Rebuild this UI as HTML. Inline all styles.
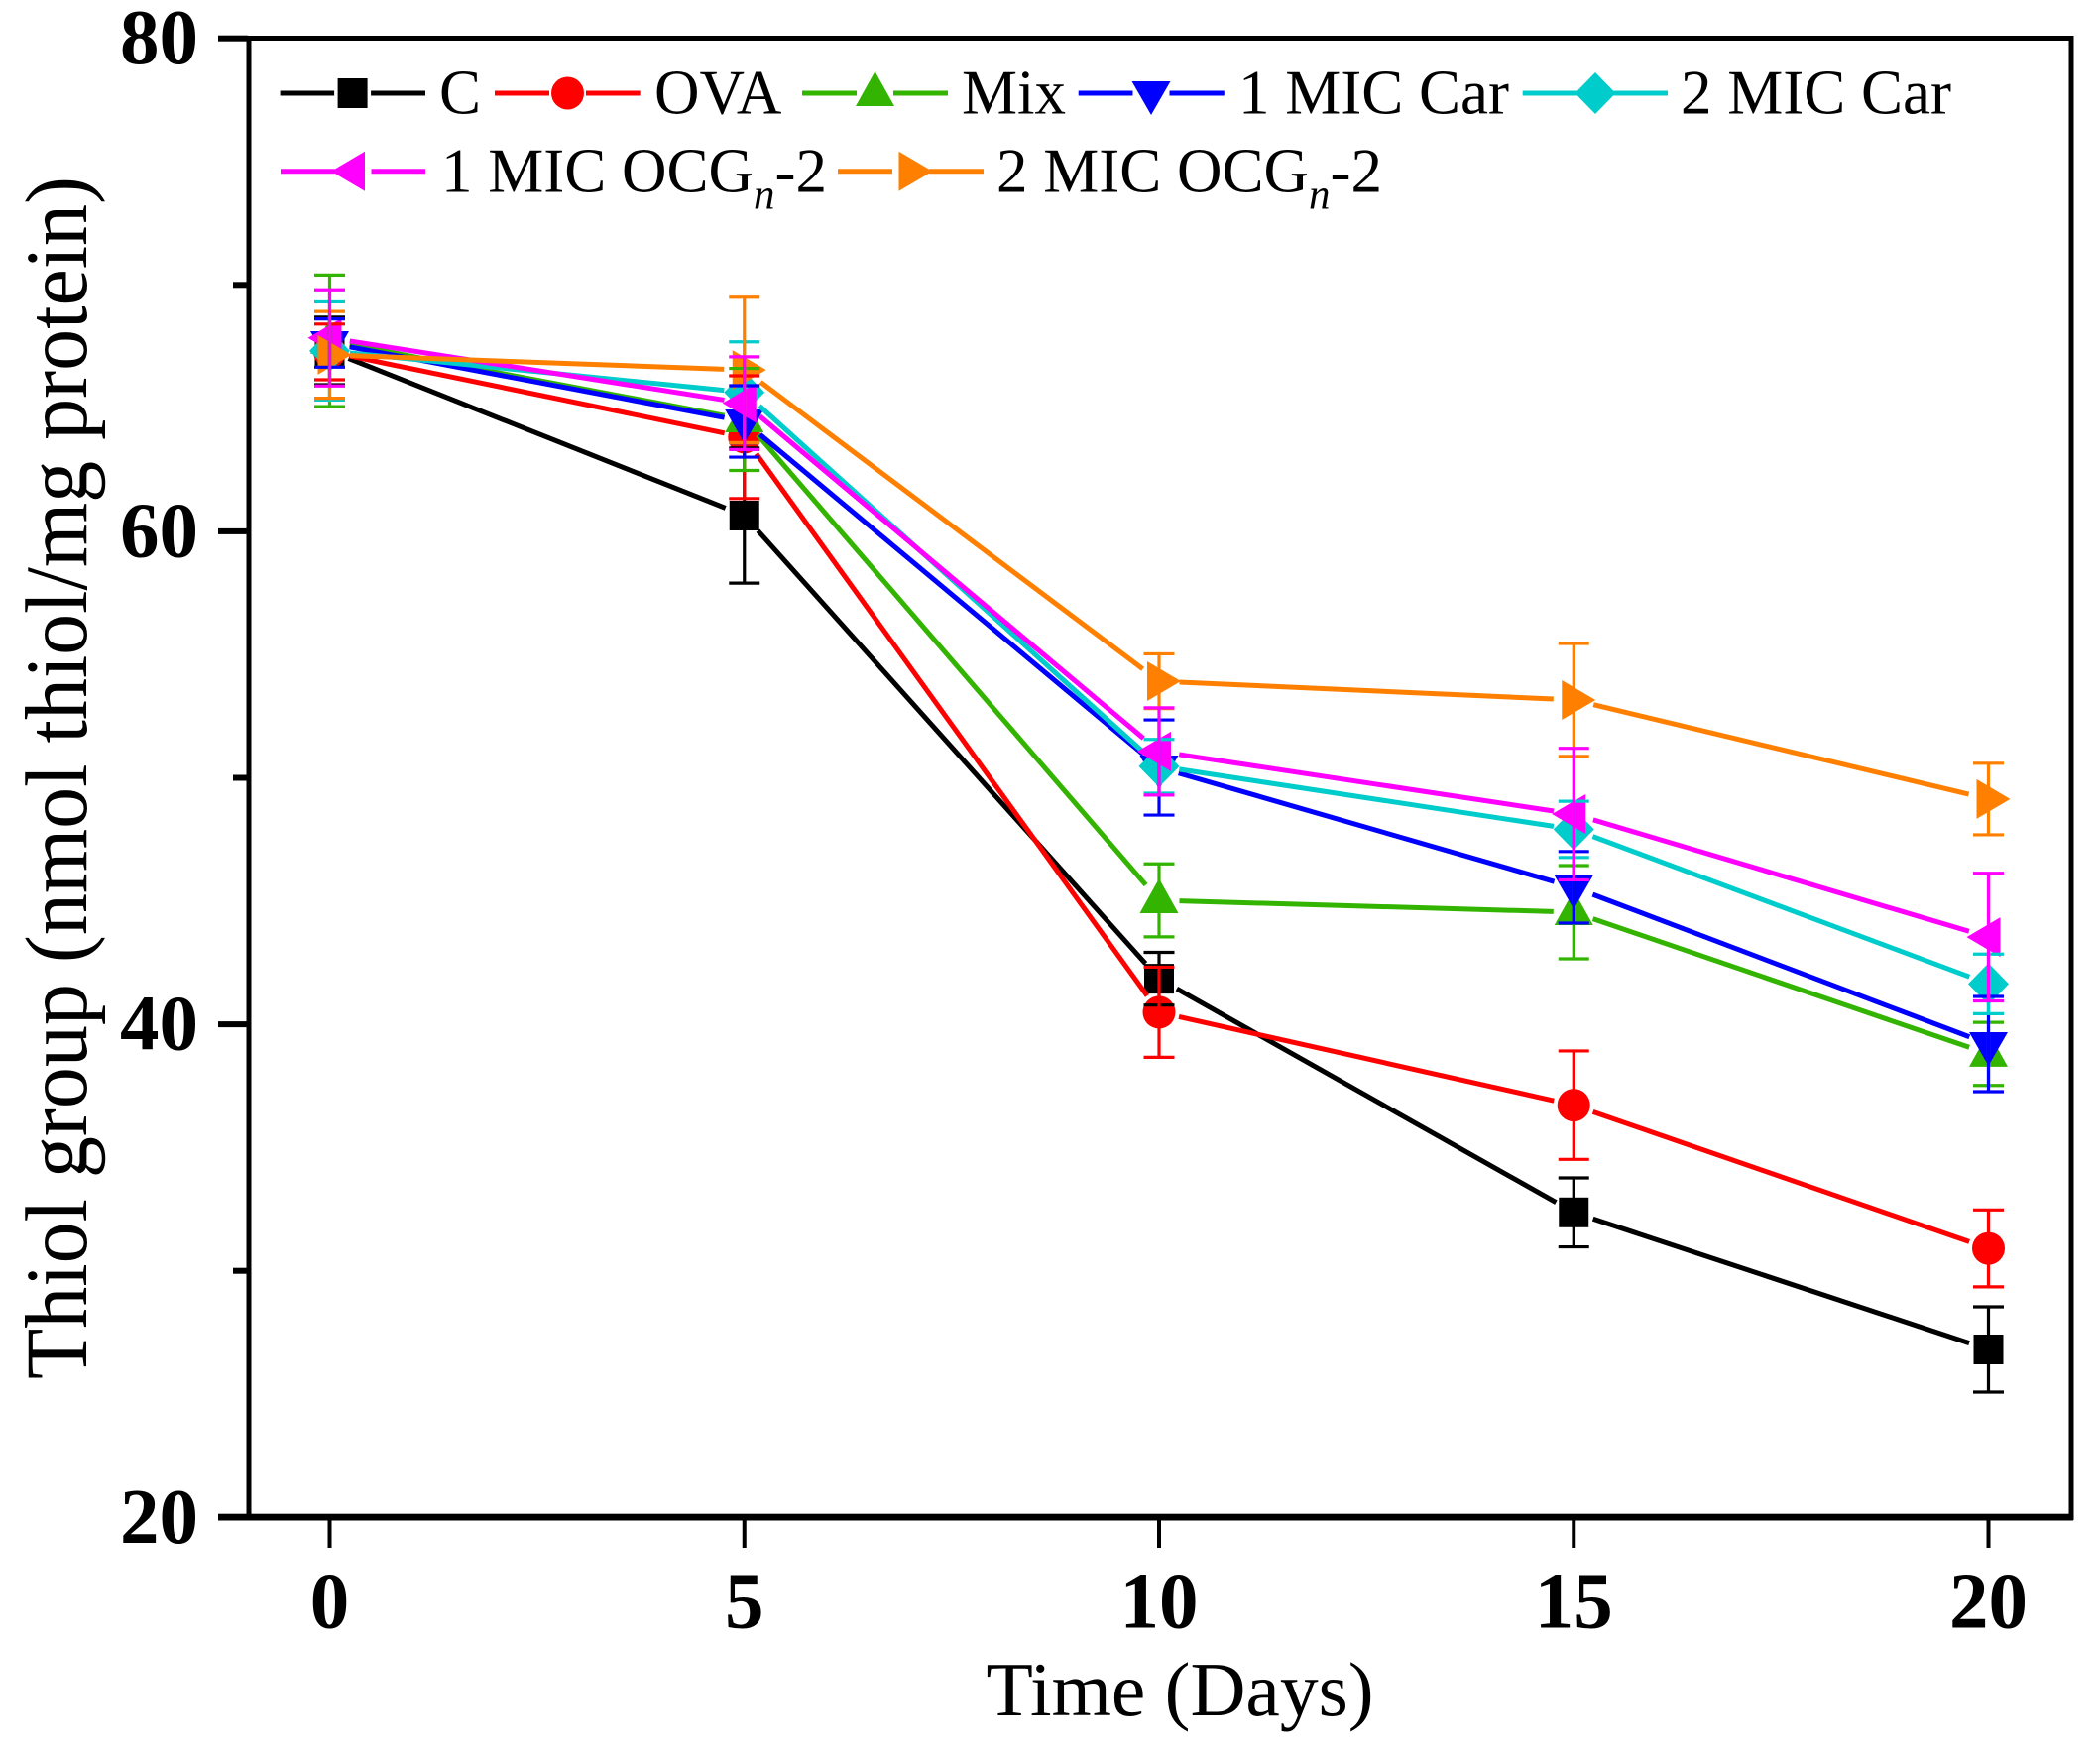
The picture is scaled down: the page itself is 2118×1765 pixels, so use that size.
<!DOCTYPE html>
<html lang="en">
<head>
<meta charset="utf-8">
<title>Thiol group over time</title>
<style>
html,body{margin:0;padding:0;background:#fff;}
svg{display:block;}
text{font-family:"Liberation Serif","Times New Roman",serif;fill:#000;}
.tick{font-weight:bold;font-size:79px;}
.legend{font-size:63px;}
.sub{font-size:43px;font-style:italic;}
</style>
</head>
<body>
<svg id="chart" xmlns="http://www.w3.org/2000/svg" width="2118" height="1765" viewBox="0 0 2118 1765">
  <rect x="0" y="0" width="2118" height="1765" fill="#ffffff"/>
  <g id="axes"></g>
  <g id="plot"></g>
  <g id="errors"></g>
  <g id="legend">
    <text class="legend" x="443" y="114.5">C</text>
    <text class="legend" x="660" y="114.5">OVA</text>
    <text class="legend" x="970" y="114.5">Mix</text>
    <text class="legend" x="1249" y="114.5">1 MIC Car</text>
    <text class="legend" x="1695" y="114.5">2 MIC Car</text>
    <text class="legend" x="445" y="193.5">1 MIC OCG<tspan class="sub" dy="17">n</tspan><tspan dy="-17">-2</tspan></text>
    <text class="legend" x="1005" y="193.5">2 MIC OCG<tspan class="sub" dy="17">n</tspan><tspan dy="-17">-2</tspan></text>
  </g>
  <text x="1190" y="1730" font-size="77.5" text-anchor="middle">Time (Days)</text>
  <text font-size="84" text-anchor="middle" transform="translate(87 784.5) rotate(-90) scale(1 1.06)">Thiol group (nmol thiol/mg protein)</text>
</svg>
<script>
var days = [0, 5, 10, 15, 20];
var xTickLabels = ["0", "5", "10", "15", "20"];
var yMajorTicks = [80, 60, 40, 20];
var yMinorTicks = [70, 50, 30];

var cValues = [67.32, 60.64, 41.85, 32.37, 26.81];
var cErrors = [1.37, 2.74, 1.07, 1.40, 1.73];
var ovaValues = [67.28, 63.82, 40.49, 36.72, 30.91];
var ovaErrors = [1.13, 2.49, 1.83, 2.20, 1.56];
var mixValues = [67.73, 64.54, 45.03, 44.55, 38.80];
var mixErrors = [2.67, 2.07, 1.48, 1.89, 1.28];
var car1Values = [67.64, 64.46, 50.42, 45.56, 39.20];
var car1Errors = [0.98, 1.45, 1.93, 1.45, 1.93];
var car2Values = [67.32, 65.64, 50.47, 47.91, 41.64];
var car2Errors = [1.99, 2.05, 1.09, 1.14, 1.21];
var ocg1Values = [67.85, 65.20, 51.07, 48.53, 43.54];
var ocg1Errors = [1.95, 1.88, 1.77, 2.67, 2.59];
var ocg2Values = [67.16, 66.55, 53.92, 53.16, 49.14];
var ocg2Errors = [1.76, 2.95, 1.11, 2.29, 1.45];

var NS = "http://www.w3.org/2000/svg";
var axesG = document.getElementById("axes");
var plotG = document.getElementById("plot");
var errG = document.getElementById("errors");
var legG = document.getElementById("legend");

function xScale(d) { return 332.5 + 83.65 * d; }
function yScale(v) { return 38.7 + (80 - v) * 24.86; }

function make(tag, attrs, parent) {
  var n = document.createElementNS(NS, tag);
  for (var k in attrs) { n.setAttribute(k, attrs[k]); }
  parent.appendChild(n);
  return n;
}

function drawMarker(shape, cx, cy, color, parent) {
  var n;
  if (shape === "square") {
    n = make("rect", { x: cx - 15, y: cy - 15, width: 30, height: 30, fill: color }, parent);
  } else if (shape === "circle") {
    n = make("circle", { cx: cx, cy: cy, r: 16.5, fill: color }, parent);
  } else {
    var pts;
    if (shape === "up") { pts = [[0, -22], [19.5, 13], [-19.5, 13]]; }
    if (shape === "down") { pts = [[-19.5, -12], [19.5, -12], [0, 22]]; }
    if (shape === "diamond") { pts = [[0, -21], [20.5, 0], [0, 21], [-20.5, 0]]; }
    if (shape === "left") { pts = [[-22, 0], [12, -20], [12, 20]]; }
    if (shape === "right") { pts = [[22, 0], [-12, -20], [-12, 20]]; }
    var s = pts.map(function (p) { return (cx + p[0]) + "," + (cy + p[1]); }).join(" ");
    n = make("polygon", { points: s, fill: color }, parent);
  }
  return n;
}

// axes
var topAxis = make("rect", { x: 220, y: 36, width: 1871, height: 5, fill: "#000" }, axesG);


var leftAxis = make("rect", { x: 248.5, y: 36, width: 5, height: 1497, fill: "#000" }, axesG);


var rightAxis = make("rect", { x: 2086.5, y: 36, width: 5, height: 1497, fill: "#000" }, axesG);


var bottomAxis = make("rect", { x: 220, y: 1526.7, width: 1871, height: 6.8, fill: "#000" }, axesG);



yMajorTicks.forEach(function (v) {
  var t = make("rect", { x: 220, y: yScale(v) - 3, width: 30, height: 6, fill: "#000" }, axesG);
  
  
  var l = make("text", { x: 200, y: yScale(v) + 25.5, "text-anchor": "end", "class": "tick" }, axesG);
  
  
  l.textContent = String(v);
});
yMinorTicks.forEach(function (v) {
  var t = make("rect", { x: 235, y: yScale(v) - 3, width: 15, height: 6, fill: "#000" }, axesG);
  
  
});
days.forEach(function (d, i) {
  var t = make("rect", { x: xScale(d) - 2, y: 1530, width: 4, height: 31, fill: "#000" }, axesG);
  
  
  var l = make("text", { x: xScale(d), y: 1641.5, "text-anchor": "middle", "class": "tick" }, axesG);
  
  
  l.textContent = xTickLabels[i];
});

var seriesList = [
  { key: "c", color: "#000000", shape: "square", values: cValues, errors: cErrors, lx1: 282.6, lx2: 429, mx: 355.6, ly: 94 },
  { key: "ova", color: "#ff0000", shape: "circle", values: ovaValues, errors: ovaErrors, lx1: 499, lx2: 645.7, mx: 572.5, ly: 94 },
  { key: "mix", color: "#33b400", shape: "up", values: mixValues, errors: mixErrors, lx1: 809, lx2: 956, mx: 882.5, ly: 94 },
  { key: "1-mic-car", color: "#0000ff", shape: "down", values: car1Values, errors: car1Errors, lx1: 1087.7, lx2: 1234.8, mx: 1161, ly: 94 },
  { key: "2-mic-car", color: "#00cccc", shape: "diamond", values: car2Values, errors: car2Errors, lx1: 1535.7, lx2: 1682, mx: 1609, ly: 94 },
  { key: "1-mic-ocg", color: "#ff00ff", shape: "left", values: ocg1Values, errors: ocg1Errors, lx1: 283, lx2: 429, mx: 356, ly: 172.7 },
  { key: "2-mic-ocg", color: "#ff8000", shape: "right", values: ocg2Values, errors: ocg2Errors, lx1: 845, lx2: 992, mx: 918.5, ly: 172.7 }
];

var GAP = 20.5;
seriesList.forEach(function (s) {
  var g = make("g", {}, plotG);
  
  
  for (var i = 0; i < days.length - 1; i++) {
    var x1 = xScale(days[i]), y1 = yScale(s.values[i]);
    var x2 = xScale(days[i + 1]), y2 = yScale(s.values[i + 1]);
    var len = Math.sqrt((x2 - x1) * (x2 - x1) + (y2 - y1) * (y2 - y1));
    var ux = (x2 - x1) / len, uy = (y2 - y1) / len;
    var seg = make("line", { x1: x1 + ux * GAP, y1: y1 + uy * GAP, x2: x2 - ux * GAP, y2: y2 - uy * GAP, stroke: s.color, "stroke-width": 5 }, g);
    
    
  }
  days.forEach(function (d, i) {
    var m = drawMarker(s.shape, xScale(d), yScale(s.values[i]), s.color, g);
    
    
  });
});

var errOrder = [0, 1, 2, 3, 4, 6, 5];
errOrder.forEach(function (idx) {
  var s = seriesList[idx];
  var g = make("g", { stroke: s.color, "stroke-width": 3.2, fill: "none" }, errG);
  
  
  days.forEach(function (d, i) {
    var x = xScale(d);
    var yt = yScale(s.values[i] + s.errors[i]);
    var yb = yScale(s.values[i] - s.errors[i]);
    var p = make("path", { d: "M" + (x - 15.5) + " " + yt + "H" + (x + 15.5) + "M" + x + " " + yt + "V" + yb + "M" + (x - 15.5) + " " + yb + "H" + (x + 15.5) }, g);
    
    
  });
});

seriesList.forEach(function (s) {
  var a = make("line", { x1: s.lx1, y1: s.ly, x2: s.mx - 18.5, y2: s.ly, stroke: s.color, "stroke-width": 5 }, legG);
  
  
  var b = make("line", { x1: s.mx + 18.5, y1: s.ly, x2: s.lx2, y2: s.ly, stroke: s.color, "stroke-width": 5 }, legG);
  
  
  var m = drawMarker(s.shape, s.mx, s.ly, s.color, legG);
  
  
});
</script>
</body>
</html>
